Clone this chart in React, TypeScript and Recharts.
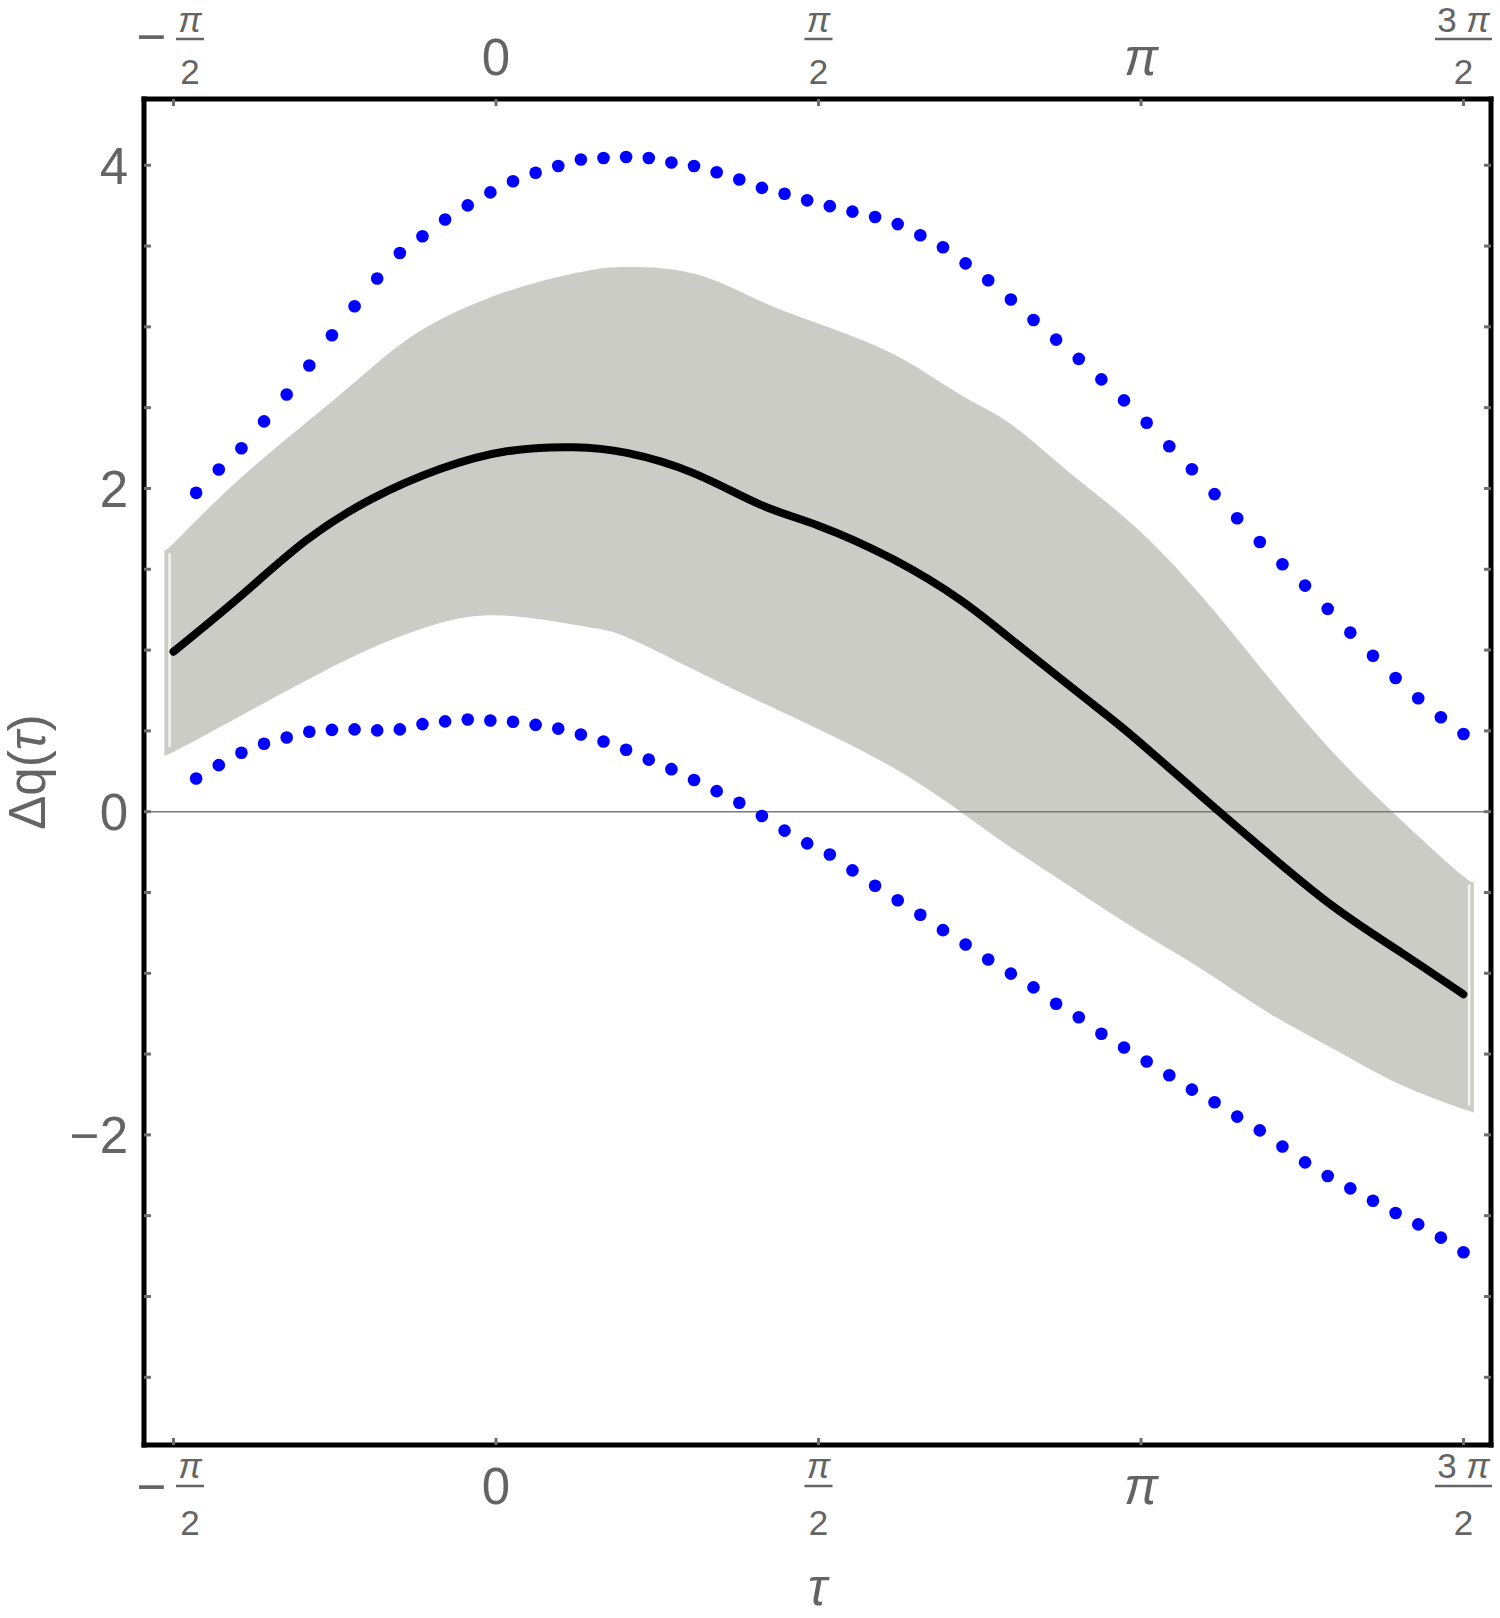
import React from "react";
import { ComposedChart, Area, Line, Scatter, XAxis, YAxis, ReferenceLine } from "recharts";

const FONT = '"Liberation Sans", Arial, Helvetica, sans-serif';
const INK = "#646464";
const TICK_INK = "#6e6e6e";
const TICK_LEN = 7;

// axis ticks
const X_TICKS = [-Math.PI / 2, 0, Math.PI / 2, Math.PI, (3 * Math.PI) / 2];
const X_TICK_LABELS = ["−π/2", "0", "π/2", "π", "3 π/2"];
const Y_TICKS = [-3.5, -3, -2.5, -2, -1.5, -1, -0.5, 0, 0.5, 1, 1.5, 2, 2.5, 3, 3.5, 4];
const Y_LABELED = [-2, 0, 2, 4];
const Y_TICK_LABELS = ["−2", "0", "2", "4"];
const X_DOMAIN = [-1.7146, 4.8464];
const Y_DOMAIN = [-3.919, 4.41];

// mean curve
const MEAN_TAU = [-1.571, -1.248, -0.923, -0.598, -0.273, 0.052, 0.377, 0.637, 0.962, 1.287, 1.571, 1.937, 2.262, 2.506, 2.862, 3.107, 3.432, 3.757, 4.082, 4.407, 4.712];
const MEAN_Q = [0.99, 1.33, 1.68, 1.94, 2.12, 2.23, 2.255, 2.22, 2.095, 1.9, 1.77, 1.56, 1.31, 1.07, 0.71, 0.46, 0.1, -0.255, -0.59, -0.87, -1.13];

// shaded band
const BAND_TAU = [-1.615, -1.571, -1.248, -0.76, -0.435, -0.111, 0.214, 0.458, 0.637, 0.962, 1.287, 1.571, 1.937, 2.262, 2.506, 2.782, 3.107, 3.432, 3.757, 4.082, 4.407, 4.712, 4.763];
const BAND_LOW = [0.36, 0.37, 0.59, 0.92, 1.1, 1.21, 1.19, 1.14, 1.08, 0.88, 0.68, 0.51, 0.27, 0.0, -0.22, -0.45, -0.72, -0.97, -1.24, -1.47, -1.69, -1.84, -1.86];
const BAND_HIGH = [1.64, 1.66, 2.06, 2.58, 2.92, 3.14, 3.28, 3.35, 3.37, 3.33, 3.16, 3.02, 2.83, 2.58, 2.4, 2.11, 1.77, 1.34, 0.84, 0.36, -0.05, -0.4, -0.41];

// light bars at the band ends
const CAP_TAU = [-1.59, 4.74];
const CAP_LOW = [0.4, -1.82];
const CAP_HIGH = [1.6, -0.45];

// dotted bounds
const DOT_TAU = [
  -1.4606, -1.3503, -1.2401, -1.1299, -1.0196, -0.9094, -0.7992, -0.6889, -0.5787, -0.4684,
  -0.3582, -0.248, -0.1377, -0.0275, 0.0827, 0.1929, 0.3031, 0.4134, 0.5236, 0.6338,
  0.7441, 0.8543, 0.9645, 1.0748, 1.185, 1.2952, 1.4055, 1.5157, 1.6259, 1.7361,
  1.8464, 1.9566, 2.0668, 2.1771, 2.2873, 2.3975, 2.5078, 2.618, 2.7282, 2.8385,
  2.9487, 3.0589, 3.1692, 3.2794, 3.3896, 3.4999, 3.6101, 3.7203, 3.8306, 3.9408,
  4.051, 4.1613, 4.2715, 4.3817, 4.492, 4.6022, 4.7124,
];
const UPPER_DOTS = [
  1.973, 2.117, 2.249, 2.415, 2.581, 2.761, 2.948, 3.128, 3.299, 3.457,
  3.561, 3.664, 3.752, 3.832, 3.901, 3.954, 3.995, 4.036, 4.045, 4.051,
  4.045, 4.017, 3.995, 3.957, 3.912, 3.86, 3.824, 3.783, 3.747, 3.713,
  3.68, 3.636, 3.567, 3.493, 3.393, 3.288, 3.169, 3.042, 2.921, 2.802,
  2.675, 2.545, 2.407, 2.261, 2.119, 1.965, 1.816, 1.669, 1.531, 1.399,
  1.255, 1.108, 0.965, 0.827, 0.702, 0.584, 0.481,
];
const LOWER_DOTS = [
  0.205, 0.288, 0.365, 0.42, 0.459, 0.495, 0.506, 0.509, 0.503, 0.509,
  0.542, 0.559, 0.57, 0.564, 0.556, 0.537, 0.514, 0.478, 0.434, 0.383,
  0.322, 0.263, 0.196, 0.127, 0.055, -0.027, -0.117, -0.196, -0.265, -0.363,
  -0.458, -0.548, -0.638, -0.733, -0.822, -0.915, -1.002, -1.087, -1.189, -1.272,
  -1.374, -1.459, -1.546, -1.631, -1.72, -1.798, -1.887, -1.972, -2.072, -2.17,
  -2.254, -2.331, -2.408, -2.483, -2.554, -2.636, -2.726,
];

const meanData = MEAN_TAU.map((t, i) => ({ t, q: MEAN_Q[i] }));
const bandData = BAND_TAU.map((t, i) => ({ t, range: [BAND_LOW[i], BAND_HIGH[i]] }));
const upperData = DOT_TAU.map((t, i) => ({ t, q: UPPER_DOTS[i] }));
const lowerData = DOT_TAU.map((t, i) => ({ t, q: LOWER_DOTS[i] }));

const frameLine = { stroke: "#000", strokeWidth: 5, strokeLinecap: "square" as const };

function makeXTick(side: "top" | "bottom") {
  return (props: any) => {
    const { x, y, payload } = props;
    const i = X_TICKS.findIndex((v) => Math.abs(v - payload.value) < 1e-6);
    const raw = X_TICK_LABELS[i] ?? "";
    const inward = side === "bottom" ? -1 : 1;
    const neg = raw.startsWith("−");
    const body = neg ? raw.slice(1) : raw;
    const pos =
      side === "bottom"
        ? { bar: y + 41, num: y + 33, den: y + 90, plain: y + 59, minus: y + 59 }
        : { bar: y - 60, num: y - 67, den: y - 15, plain: y - 24, minus: y - 45 };
    let label: React.ReactNode;
    if (body.includes("/")) {
      const [num, den] = body.split("/");
      const parts = num.split(" ");
      const fx = neg ? x + 16.5 : x;
      const hw = parts.length > 1 ? 28.5 : 14;
      label = (
        <g fill={INK} fontFamily={FONT} fontSize={35}>
          {neg && (
            <text x={x - 22} y={pos.minus} textAnchor="middle" fontSize={51}>
              −
            </text>
          )}
          <text x={fx} y={pos.num} textAnchor="middle">
            {parts.length > 1 && <tspan>{parts[0]} </tspan>}
            <tspan fontStyle="italic">{parts[parts.length - 1]}</tspan>
          </text>
          <line x1={fx - hw} x2={fx + hw} y1={pos.bar} y2={pos.bar} stroke={INK} strokeWidth={2.5} />
          <text x={fx} y={pos.den} textAnchor="middle">
            {den}
          </text>
        </g>
      );
    } else {
      label = (
        <text
          x={x}
          y={pos.plain}
          textAnchor="middle"
          fill={INK}
          fontFamily={FONT}
          fontSize={51}
          fontStyle={body === "π" ? "italic" : "normal"}
        >
          {body}
        </text>
      );
    }
    return (
      <g>
        <line x1={x} x2={x} y1={y} y2={y + inward * TICK_LEN} stroke={TICK_INK} strokeWidth={3} />
        {label}
      </g>
    );
  };
}

function makeYTick(side: "left" | "right") {
  return (props: any) => {
    const { x, y, payload } = props;
    const inward = side === "left" ? 1 : -1;
    const li = Y_LABELED.indexOf(payload.value);
    return (
      <g>
        <line x1={x} x2={x + inward * TICK_LEN} y1={y} y2={y} stroke={TICK_INK} strokeWidth={3} />
        {side === "left" && li >= 0 && (
          <text x={x - 16} y={y + 18.5} textAnchor="end" fill={INK} fontFamily={FONT} fontSize={51}>
            {Y_TICK_LABELS[li]}
          </text>
        )}
      </g>
    );
  };
}

const YTitle = (props: any) => {
  const vb = props.viewBox ?? { x: 0, y: 99, width: 144, height: 1346 };
  const cx = vb.x + 45;
  const cy = vb.y + vb.height / 2;
  return (
    <text
      x={cx}
      y={cy}
      transform={`rotate(-90 ${cx} ${cy})`}
      textAnchor="middle"
      fill={INK}
      fontFamily={FONT}
      fontSize={51}
    >
      Δq(<tspan fontStyle="italic">τ</tspan>)
    </text>
  );
};

const XTitle = (props: any) => {
  const vb = props.viewBox ?? { x: 144, y: 1445, width: 1347, height: 173 };
  return (
    <text
      x={vb.x + vb.width / 2}
      y={vb.y + 160}
      textAnchor="middle"
      fill={INK}
      fontFamily={FONT}
      fontSize={51}
      fontStyle="italic"
    >
      τ
    </text>
  );
};

const BlueDot = (p: any) => <circle cx={p.cx} cy={p.cy} r={6.3} fill="#0000ff" />;

export default function App() {
  return (
    <div style={{ position: "absolute", left: 0, top: 0, width: 1500, height: 1618, background: "#fff" }}>
      <ComposedChart width={1500} height={1618} margin={{ top: 0, right: 0, bottom: 0, left: 0 }}>
        <XAxis
          xAxisId="b"
          dataKey="t"
          type="number"
          domain={X_DOMAIN}
          allowDataOverflow
          ticks={X_TICKS}
          interval={0}
          height={173}
          tickSize={0}
          tickMargin={0}
          axisLine={frameLine}
          tickLine={false}
          tick={makeXTick("bottom")}
          label={{ content: XTitle }}
        />
        <XAxis
          xAxisId="t"
          orientation="top"
          dataKey="t"
          type="number"
          domain={X_DOMAIN}
          allowDataOverflow
          ticks={X_TICKS}
          interval={0}
          height={99}
          tickSize={0}
          tickMargin={0}
          axisLine={frameLine}
          tickLine={false}
          tick={makeXTick("top")}
        />
        <YAxis
          yAxisId="l"
          type="number"
          domain={Y_DOMAIN}
          allowDataOverflow
          ticks={Y_TICKS}
          interval={0}
          width={144}
          tickSize={0}
          tickMargin={0}
          axisLine={frameLine}
          tickLine={false}
          tick={makeYTick("left")}
          label={{ content: YTitle }}
        />
        <YAxis
          yAxisId="r"
          orientation="right"
          type="number"
          domain={Y_DOMAIN}
          allowDataOverflow
          ticks={Y_TICKS}
          interval={0}
          width={9}
          tickSize={0}
          tickMargin={0}
          axisLine={frameLine}
          tickLine={false}
          tick={makeYTick("right")}
        />

        <Area
          xAxisId="b"
          yAxisId="l"
          data={bandData}
          dataKey="range"
          type="natural"
          stroke="none"
          fill="#cbccc5"
          fillOpacity={1}
          isAnimationActive={false}
        />
        {CAP_TAU.map((t, i) => (
          <ReferenceLine
            key={`cap${i}`}
            xAxisId="b"
            yAxisId="l"
            segment={[
              { x: t, y: CAP_LOW[i] },
              { x: t, y: CAP_HIGH[i] },
            ]}
            stroke="#f3f3f1"
            strokeWidth={2.5}
          />
        ))}
        <ReferenceLine xAxisId="b" yAxisId="l" y={0} stroke="#7a7a7a" strokeWidth={1.5} />
        <Line
          xAxisId="b"
          yAxisId="l"
          data={meanData}
          dataKey="q"
          type="natural"
          stroke="#000"
          strokeWidth={8}
          strokeLinecap="round"
          dot={false}
          isAnimationActive={false}
        />
        <Scatter xAxisId="b" yAxisId="l" data={upperData} dataKey="q" shape={BlueDot} isAnimationActive={false} />
        <Scatter xAxisId="b" yAxisId="l" data={lowerData} dataKey="q" shape={BlueDot} isAnimationActive={false} />
      </ComposedChart>
    </div>
  );
}
